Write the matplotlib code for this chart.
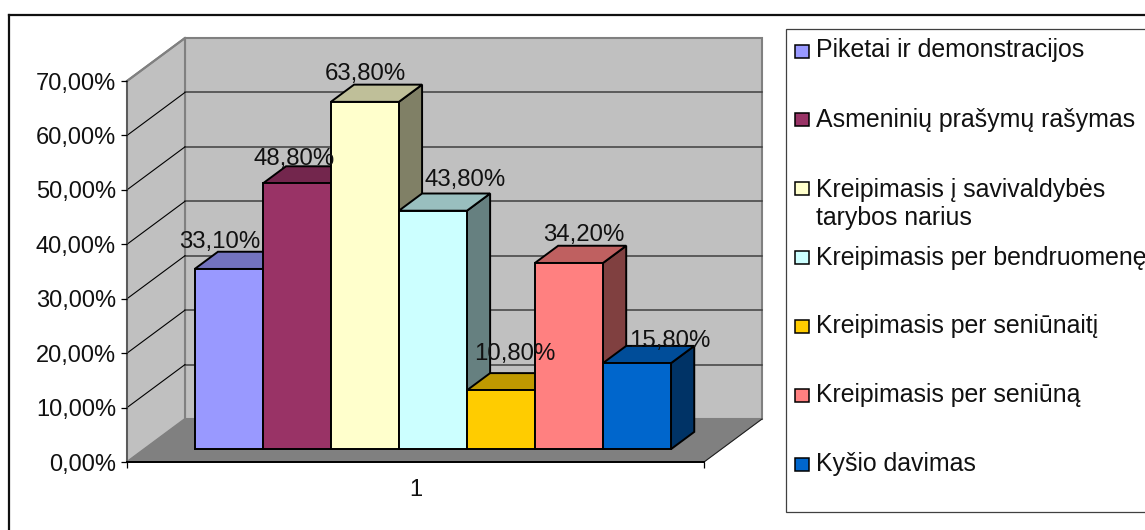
import matplotlib
matplotlib.use('Agg')
import matplotlib.pyplot as plt
from matplotlib.colors import to_rgb
from matplotlib.lines import Line2D
from matplotlib.patches import Polygon, Rectangle
from matplotlib.ticker import FuncFormatter

plt.rcParams['font.family'] = ['Liberation Sans', 'DejaVu Sans']

# ── Data ───────────────────────────────────────────────────────────────────────
categories = [
    'Piketai ir demonstracijos',
    'Asmeninių prašymų rašymas',
    'Kreipimasis į savivaldybės\ntarybos narius',
    'Kreipimasis per bendruomenę',
    'Kreipimasis per seniūnaitį',
    'Kreipimasis per seniūną',
    'Kyšio davimas',
]
values = [33.1, 48.8, 63.8, 43.8, 10.8, 34.2, 15.8]
y_ticks = [0, 10, 20, 30, 40, 50, 60, 70]
group_label = '1'

# ── Styles ─────────────────────────────────────────────────────────────────────
colors = ['#9999FF', '#993366', '#FFFFCC', '#CCFFFF', '#FFCC00', '#FF8080', '#0066CC']

# hand placed in the original, offset from bar centre / bar top (pixels)
label_dx = [-9, -3, 1, 32, 13.5, 15, 33]
label_dy = [27, 24, 28, 31, 36, 28, 22]

# legend text baselines and swatch centres (pixels from top)
# the two line entry is anchored on its last line
legend_base = [57.5, 127, 224.5, 265, 333, 402, 471]
legend_mark = [51, 119, 188, 258, 326, 395, 464]

W, H = 1145, 530
FS = 17


def shade(color, k):
    return tuple(c * k for c in to_rgb(color))


def fx(x):
    return x / W


def fy(y):
    return 1 - y / H


fig = plt.figure(figsize=(W / 100, H / 100), dpi=100, facecolor='white')
ax = fig.add_axes([fx(127), fy(462), (704 - 127) / W, (462 - 81) / H])
ax.patch.set_visible(False)

gap = 0.74
ax.set_xlim(-gap, len(values) + gap)
ax.set_ylim(0, 70)

# depth of the oblique projection, in data units
depth_x = 58 / (577 / (len(values) + 2 * gap))
depth_y = 43 / (381 / 70)


def proj(x, y, d):
    return (x + d * depth_x, y + d * depth_y)


def face(pts, fc, ec, lw, z=1):
    ax.add_patch(Polygon(pts, closed=True, facecolor=fc, edgecolor=ec, linewidth=lw,
                         joinstyle='miter', clip_on=False, zorder=z))


x0, x1 = ax.get_xlim()
y0, y1 = ax.get_ylim()

# ── Walls and floor ────────────────────────────────────────────────────────────
face([proj(x0, y0, 1), proj(x1, y0, 1), proj(x1, y1, 1), proj(x0, y1, 1)],
     '#C0C0C0', '#808080', 1.5)
face([proj(x0, y0, 0), proj(x0, y0, 1), proj(x0, y1, 1), proj(x0, y1, 0)],
     '#C0C0C0', '#808080', 1.5)
face([proj(x0, y0, 0), proj(x1, y0, 0), proj(x1, y0, 1), proj(x0, y0, 1)],
     '#808080', '#808080', 0.5)

for t in y_ticks[1:-1]:
    px, py = zip(proj(x0, t, 1), proj(x1, t, 1))
    ax.plot(px, py, color='#404040', lw=1.1, clip_on=False, zorder=1.1)
for t in y_ticks[1:]:
    px, py = zip(proj(x0, t, 0), proj(x0, t, 1))
    top = t == y_ticks[-1]
    ax.plot(px, py, color='#808080' if top else 'black', lw=1.5 if top else 0.8,
            clip_on=False, zorder=1.1)
px, py = zip(proj(x1, y0, 0), proj(x1, y0, 1))
ax.plot(px, py, color='#202020', lw=0.8, clip_on=False, zorder=1.1)

# ── Bars, left to right so the next front hides the side before it ─────────────
d0, d1 = 0.3, 0.7
for i, (v, c) in enumerate(zip(values, colors)):
    a, b = i, i + 1
    z = 2 + i * 0.1
    face([proj(b, 0, d0), proj(b, 0, d1), proj(b, v, d1), proj(b, v, d0)], shade(c, 0.5), 'black', 1.4, z)
    face([proj(a, v, d0), proj(b, v, d0), proj(b, v, d1), proj(a, v, d1)], shade(c, 0.75), 'black', 1.4, z)
    face([proj(a, 0, d0), proj(b, 0, d0), proj(b, v, d0), proj(a, v, d0)], c, 'black', 1.4, z)

for i, v in enumerate(values):
    text = f'{v:.2f}%'.replace('.', ',')
    ax.annotate(text, xy=proj(i + 0.5, v, d0), xytext=(label_dx[i] * 0.72, label_dy[i] * 0.72),
                textcoords='offset points', ha='center', va='center', fontsize=FS + 0.3,
                color='#111111', annotation_clip=False, zorder=5)

# ── Axes ───────────────────────────────────────────────────────────────────────
ax.spines['top'].set_visible(False)
ax.spines['right'].set_visible(False)
ax.spines['left'].set_color('#505050')
ax.spines['left'].set_linewidth(1.1)
ax.spines['bottom'].set_linewidth(1.4)
ax.spines['left'].set_zorder(1.5)
ax.spines['bottom'].set_zorder(1.5)

ax.set_yticks(y_ticks)
ax.yaxis.set_major_formatter(FuncFormatter(lambda v, _: f'{v:.2f}%'.replace('.', ',')))
ax.tick_params(axis='y', length=4, width=0.9, pad=4, labelsize=FS, labelcolor='#111111')

ax.set_xticks([(x0 + x1) / 2], labels=[group_label])
ax.set_xticks([x0, x1], minor=True)
ax.tick_params(axis='x', which='major', length=0, pad=12.5, labelsize=FS, labelcolor='#111111')
ax.tick_params(axis='x', which='minor', length=4.5, width=0.9)

# ── Frame and legend, the picture is cut off at right and bottom ───────────────
fig.add_artist(Line2D([fx(9), fx(9)], [fy(15), fy(540)], color='#101010', lw=1.6))
fig.add_artist(Line2D([fx(9), fx(1160)], [fy(15), fy(15)], color='#101010', lw=1.6))
fig.add_artist(Rectangle((fx(785.5), fy(512)), (1160 - 785.5) / W, (512 - 28.5) / H,
                         transform=fig.transFigure, facecolor='white',
                         edgecolor='#404040', linewidth=0.9))

for name, c, base, mark in zip(categories, colors, legend_base, legend_mark):
    fig.add_artist(Rectangle((fx(795), fy(mark + 6.5)), 14 / W, 13 / H, transform=fig.transFigure,
                             facecolor=c, edgecolor='black', linewidth=1.1))
    fig.text(fx(816.5), fy(base), name, fontsize=17.9, va='baseline', ha='left',
             color='#111111', linespacing=1.18)

fig.savefig('out.png', dpi=100, facecolor='white')
plt.close(fig)
